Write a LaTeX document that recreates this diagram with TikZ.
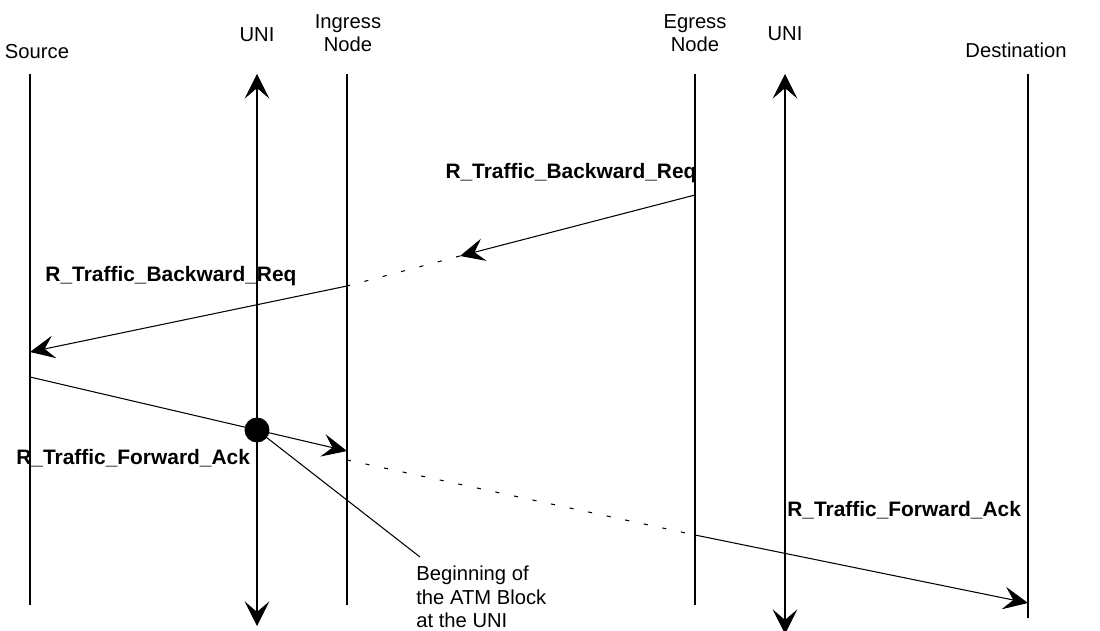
\documentclass[tikz,border=0pt]{standalone}
\usepackage{fontspec}
\setmainfont{Liberation Sans}
\usetikzlibrary{arrows.meta}

\tikzset{
  life/.style={line width=0.6pt},
  msg/.style={line width=0.6pt,-{Stealth[length=14pt,width=13pt,inset=5.5pt]}},
  gap/.style={line width=0.6pt,dash pattern=on 2.3pt off 8.5pt},
  head/.style={font=\fontsize{11.5}{13.6}\selectfont,align=center,inner sep=0pt,anchor=base},
  msglabel/.style={font=\fontsize{11.9}{14}\selectfont\bfseries,inner sep=0pt,anchor=base}
}

\begin{document}
\begin{tikzpicture}[x=0.02cm,y=-0.02cm]
    \useasboundingbox (0,0) rectangle (1100,631);
    % lifelines
    \coordinate (srcT) at (30,74);    \coordinate (srcB) at (30,605);
    \coordinate (uniAT) at (257,74);  \coordinate (uniAB) at (257,626);
    \coordinate (ingT) at (347,74);   \coordinate (ingB) at (347,605);
    \coordinate (egrT) at (695,74);   \coordinate (egrB) at (695,605);
    \coordinate (uniBT) at (785,74);  \coordinate (uniBB) at (785,634);
    \coordinate (dstT) at (1028,74);  \coordinate (dstB) at (1028,618);
    \node [head] (srcL) at (37,59) {Source};
    \node [head] (uniAL) at (257,42) {UNI};
    \node [head] (ingL) at (348,52) {Ingress\\Node};
    \node [head] (egrL) at (695,52) {Egress\\Node};
    \node [head] (uniBL) at (785,41) {UNI};
    \node [head] (dstL) at (1016,58) {Destination};
    \draw [life] (srcT) -- (srcB);
    \draw [life] (ingT) -- (ingB);
    \draw [life] (egrT) -- (egrB);
    \draw [life] (dstT) -- (dstB);
    \draw [life,{Stealth[length=14pt,width=14pt,inset=6pt]}-{Stealth[length=14pt,width=14pt,inset=6pt]}] (uniAT) -- (uniAB);
    \draw [life,{Stealth[length=14pt,width=14pt,inset=6pt]}-{Stealth[length=14pt,width=14pt,inset=6pt]}] (uniBT) -- (uniBB);
    % backward request
    \coordinate (bwA) at (695,195);
    \coordinate (bwB) at (460,256);
    \coordinate (bwC) at (347,286);
    \coordinate (bwD) at (30,352);
    \draw [msg] (bwA) -- (bwB);
    \draw [gap] (bwB) -- (bwC);
    \draw [msg] (bwC) -- (bwD);
    \node [msglabel] (bwL1) at (571,179) {R\_Traffic\_Backward\_Req};
    \node [msglabel] (bwL2) at (171,282) {R\_Traffic\_Backward\_Req};
    % forward ack
    \coordinate (fwA) at (30,377);
    \node [circle,fill,inner sep=0pt,minimum size=0.5cm] (blk) at (257,430) {};
    \coordinate (fwB) at (347,451);
    \coordinate (fwC) at (347,460);
    \coordinate (fwD) at (695,535);
    \coordinate (fwE) at (1028,603);
    \draw [msg] (fwA) -- (fwB);
    \draw [gap] (fwC) -- (fwD);
    \draw [msg] (fwD) -- (fwE);
    \node [msglabel,anchor=base west] (fwL1) at (16,465) {R\_Traffic\_Forward\_Ack};
    \node [msglabel,anchor=base west] (fwL2) at (787,517) {R\_Traffic\_Forward\_Ack};
    % note
    \coordinate (noteP) at (420,557);
    \draw [line width=0.6pt] (blk.center) -- (noteP);
    \node [font=\fontsize{11.5}{13.6}\selectfont,align=left,anchor=base west,inner sep=0pt] (note) at (416,628) {Beginning of\\the ATM Block\\at the UNI};
\end{tikzpicture}
\end{document}
